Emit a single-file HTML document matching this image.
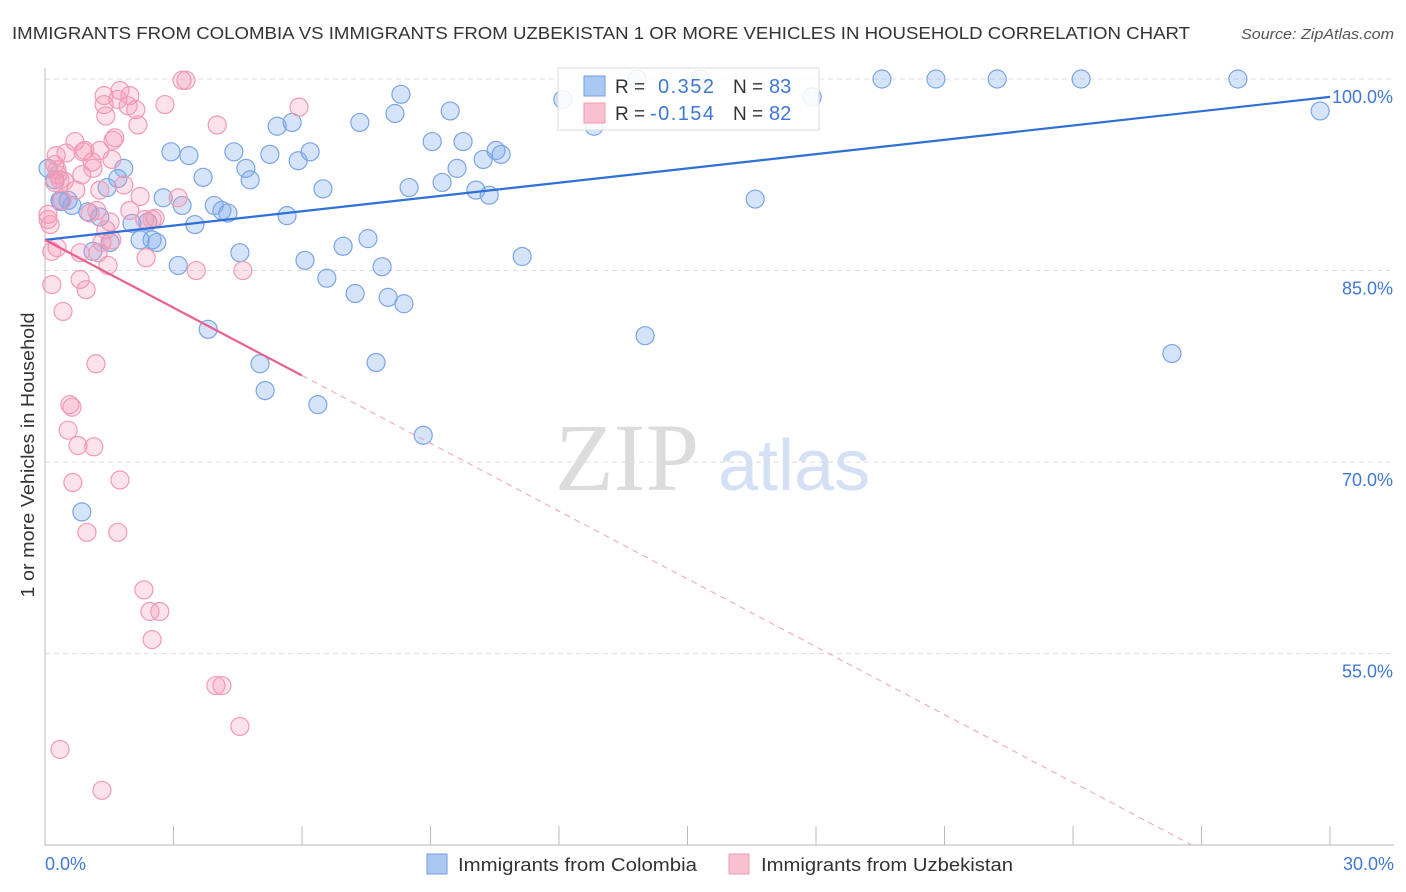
<!DOCTYPE html>
<html><head><meta charset="utf-8"><style>
body{margin:0;background:#fff;font-family:"Liberation Sans",sans-serif}
#wrap{position:relative;width:1406px;height:892px;overflow:hidden}
</style></head><body>
<div id="wrap">
<svg id="chart" width="1406" height="892" xmlns="http://www.w3.org/2000/svg">
<text x="12" y="39" font-size="17.5" fill="#333" textLength="1178" lengthAdjust="spacingAndGlyphs">IMMIGRANTS FROM COLOMBIA VS IMMIGRANTS FROM UZBEKISTAN 1 OR MORE VEHICLES IN HOUSEHOLD CORRELATION CHART</text>
<text x="1241" y="39" font-size="14.5" fill="#555" font-style="italic" textLength="153" lengthAdjust="spacingAndGlyphs">Source: ZipAtlas.com</text>
<text x="555" y="490" font-size="96" fill="#dcdcdc" font-family="Liberation Serif,serif">ZIP</text>
<text x="718" y="490" font-size="72" fill="#d4e1f4">atlas</text>
<text transform="translate(34,455) rotate(-90)" font-size="18" fill="#333" text-anchor="middle" textLength="285" lengthAdjust="spacingAndGlyphs">1 or more Vehicles in Household</text>
<g id="grid"></g><g id="marks"></g><g id="lines"></g>
<g>
<rect x="558" y="68" width="261" height="62" fill="#fff" fill-opacity="0.85" stroke="#ddd"/>
<rect x="584" y="76" width="21" height="20" fill="#aac8f2" stroke="#6f9ee6"/>
<rect x="584" y="103" width="21" height="20" fill="#f8c0d0" stroke="#f09ab4"/>
<text x="615" y="93" font-size="19" fill="#333">R =</text><text x="658" y="93" font-size="20" fill="#3f78d4" textLength="56">0.352</text>
<text x="733" y="93" font-size="19" fill="#333">N =</text><text x="769" y="93" font-size="20" fill="#3f78d4">83</text>
<text x="615" y="120" font-size="19" fill="#333">R =</text><text x="650" y="120" font-size="20" fill="#3f78d4" textLength="64">-0.154</text>
<text x="733" y="120" font-size="19" fill="#333">N =</text><text x="769" y="120" font-size="20" fill="#3f78d4">82</text>
</g>
<text x="45" y="870" font-size="18" fill="#3f78d4">0.0%</text>
<text x="1394" y="870" font-size="18" fill="#3f78d4" text-anchor="end">30.0%</text>
<g><rect x="427" y="854" width="20" height="20" fill="#aac8f2" stroke="#6f9ee6"/><text x="458" y="871" font-size="18" fill="#333" textLength="239" lengthAdjust="spacingAndGlyphs">Immigrants from Colombia</text></g>
<g><rect x="729" y="854" width="20" height="20" fill="#f8c0d0" stroke="#f09ab4"/><text x="761" y="871" font-size="18" fill="#333" textLength="252" lengthAdjust="spacingAndGlyphs">Immigrants from Uzbekistan</text></g>
</svg>
</div>
<script>
const yTicks=[100,85,70,55];
const yTickLabels=["100.0%","85.0%","70.0%","55.0%"];
const xTicks=[0,3,6,9,12,15,18,21,24,27,30];
const colX=[0.07,0.23,0.35,0.54,0.63,1.0,1.28,1.12,1.45,1.70,1.84,1.52,2.03,2.22,2.40,2.50,2.61,2.76,2.94,3.11,3.20,3.36,3.50,3.69,3.81,3.95,4.13,4.27,4.41,4.55,4.69,4.79,5.02,5.14,5.25,5.42,5.65,5.77,5.91,6.07,6.19,6.37,6.49,6.58,6.96,7.24,7.35,7.54,7.73,7.87,8.01,8.17,8.31,8.38,8.50,8.83,9.04,9.27,9.46,9.62,9.76,10.06,10.23,10.37,10.53,10.65,11.14,12.09,12.82,13.82,14.01,15.29,16.58,17.91,19.54,20.80,22.23,24.19,26.31,27.85,29.77,0.86,0.37];
const colY=[93.0,92.1,90.5,90.5,90.1,89.6,89.2,86.5,91.5,92.2,93.0,87.2,88.7,87.4,88.8,87.4,87.2,90.7,94.3,85.4,90.1,94.0,88.6,92.3,80.4,90.1,89.7,89.5,94.3,86.4,93.0,92.1,77.7,75.6,94.1,96.3,89.3,96.6,93.6,85.8,94.3,74.5,91.4,84.4,86.9,83.2,96.6,87.5,77.8,85.3,82.9,97.3,98.8,82.4,91.5,72.1,95.1,91.9,97.5,93.0,95.1,91.3,93.7,90.9,94.4,94.1,86.1,98.4,96.3,100,79.9,100,90.6,98.6,100,100,100,100,78.5,100,97.5,66.1,90.4];
const uzbX=[0.07,0.12,0.16,0.23,0.16,0.28,0.30,0.42,0.40,0.49,0.58,0.54,0.63,0.65,0.70,0.72,0.77,0.82,0.82,0.86,0.89,0.96,0.98,1.05,1.10,1.14,1.19,1.24,1.28,1.33,1.38,1.42,1.47,1.52,1.56,1.63,1.70,1.75,1.84,1.94,1.98,2.12,2.17,2.31,2.36,2.45,2.50,2.57,2.68,2.80,3.11,3.20,3.29,3.53,3.99,4.13,4.02,4.55,4.62,5.93,0.35,1.33,0.23,1.38,1.59,1.75,0.28,2.22,2.33,2.50,1.56,0.93,1.42,1.12,1.70,1.21,0.35,0.07,1.28,1.98,0.26,0.45];
const uzbY=[89.4,88.6,86.5,91.9,83.9,92.9,92.5,81.8,90.5,94.2,74.5,72.5,74.3,68.4,95.1,91.3,71.3,86.4,84.3,92.5,94.3,83.5,64.5,89.5,93.5,71.2,77.7,86.4,91.3,87.2,98.0,97.1,85.4,88.8,93.7,95.4,64.5,68.6,91.7,97.9,89.7,97.6,96.4,60.0,86.0,58.3,56.1,89.1,58.3,98.0,90.7,99.9,99.9,85.0,52.5,52.5,96.4,49.3,85.0,97.8,47.5,44.3,93.3,98.7,95.2,99.1,86.8,90.8,89.0,89.0,87.4,94.4,88.2,93.0,98.4,89.7,92.1,89.0,94.4,98.7,94.0,92.0];
const colTrend=[87.4,98.6];
const uzbTrend=[87.4,-1.77];
const NS="http://www.w3.org/2000/svg";
const X=v=>45+v/30*1285;
const Y=v=>79+(100-v)*12.77;
function mk(tag,attrs,parent){const e=document.createElementNS(NS,tag);for(const k in attrs)e.setAttribute(k,attrs[k]);parent.appendChild(e);return e;}
const grid=document.getElementById('grid'),marks=document.getElementById('marks'),lines=document.getElementById('lines');
yTicks.forEach((t,i)=>{
 const g=mk('line',{x1:45,x2:1394,y1:Y(t),y2:Y(t),stroke:'#ddd','stroke-dasharray':'5,4'},grid);
 
 
 const l=mk('text',{x:1393,y:Y(t)+24,'font-size':18,fill:'#3f78d4','text-anchor':'end'},grid);
 l.textContent=yTickLabels[i];
 
 
});
const ax=mk('line',{x1:45,x2:45,y1:68,y2:846,stroke:'#bbb'},grid);


const bx=mk('line',{x1:45,x2:1394,y1:845,y2:845,stroke:'#bbb'},grid);


xTicks.forEach(t=>{
 const k=mk('line',{x1:X(t),x2:X(t),y1:826,y2:845,stroke:'#bbb'},grid);
 
 
});
colX.forEach((x,i)=>{
 const c=mk('circle',{cx:X(x),cy:Y(colY[i]),r:9,fill:'rgba(120,165,235,0.3)',stroke:'#7aa5e6','stroke-width':1.2},marks);
 
 
});
uzbX.forEach((x,i)=>{
 const c=mk('circle',{cx:X(x),cy:Y(uzbY[i]),r:9,fill:'rgba(245,150,180,0.28)',stroke:'#f29ab5','stroke-width':1.2},marks);
 
 
});
const bl=mk('line',{x1:X(0),y1:Y(colTrend[0]),x2:X(30),y2:Y(colTrend[1]),stroke:'#2f6fd6','stroke-width':2.2},lines);


const pEnd=6, pDash=(uzbTrend[0]-40)/-uzbTrend[1];
const pl=mk('line',{x1:X(0),y1:Y(uzbTrend[0]),x2:X(pEnd),y2:Y(uzbTrend[0]+uzbTrend[1]*pEnd),stroke:'#e8608f','stroke-width':2.2},lines);


const pd=mk('line',{x1:X(pEnd),y1:Y(uzbTrend[0]+uzbTrend[1]*pEnd),x2:X(pDash),y2:Y(40),stroke:'#f0a0b8','stroke-width':1,'stroke-dasharray':'6,5'},lines);


</script>
</body></html>
